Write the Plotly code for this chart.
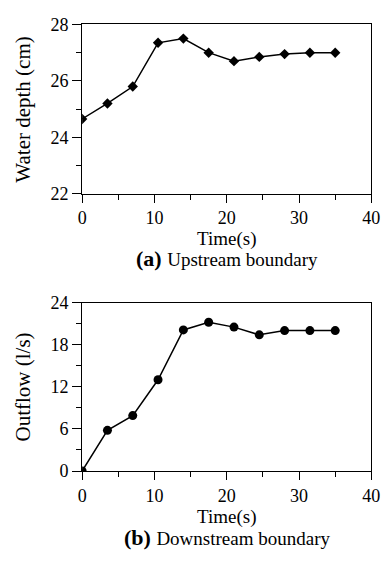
import plotly.graph_objects as go

time_s = [0, 3.5, 7, 10.5, 14, 17.5, 21, 24.5, 28, 31.5, 35]
water_depth = [24.65, 25.2, 25.8, 27.35, 27.5, 27.0, 26.7, 26.85, 26.95, 27.0, 27.0]
outflow = [0, 5.8, 7.9, 13.0, 20.1, 21.2, 20.5, 19.4, 20.0, 20.0, 20.0]

x_ticks = [0, 10, 20, 30, 40]
depth_ticks = [22, 24, 26, 28]
outflow_ticks = [0, 6, 12, 18, 24]

FONT = "Liberation Serif, Times New Roman, serif"
W, H = 390, 564

fig = go.Figure()
fig.add_trace(go.Scatter(x=time_s, y=water_depth, mode="lines+markers",
                         line=dict(color="black", width=1.5),
                         marker=dict(symbol="diamond", size=8, color="black"),
                         xaxis="x", yaxis="y", showlegend=False))
fig.add_trace(go.Scatter(x=time_s, y=outflow, mode="lines+markers",
                         line=dict(color="black", width=1.5),
                         marker=dict(symbol="circle", size=9, color="black"),
                         xaxis="x2", yaxis="y2", showlegend=False))

xd = [80 / W, 380 / W]
y1d = [(H - 190.5) / H, (H - 15) / H]
y2d = [(H - 478) / H, (H - 303.3) / H]

def xaxis(anchor):
    return dict(domain=xd, anchor=anchor, range=[0, 40], tickvals=x_ticks,
                showgrid=False, zeroline=False, showline=True, linecolor="black",
                linewidth=1.3, mirror=True, ticks="outside", ticklen=8, tickwidth=1.3,
                tickcolor="black", tickfont=dict(family=FONT, size=18, color="black"),
                minor=dict(dtick=5, ticks="outside", ticklen=5, tickwidth=1.3, tickcolor="black"))

def yaxis(anchor, dom, rng, tv, minor_d):
    return dict(domain=dom, anchor=anchor, range=rng, tickvals=tv,
                showgrid=False, zeroline=False, showline=True, linecolor="black",
                linewidth=1.3, mirror=True, ticks="outside", ticklen=9, tickwidth=1.3,
                tickcolor="black", tickfont=dict(family=FONT, size=18, color="black"),
                minor=dict(dtick=minor_d, tick0=rng[0], ticks="outside", ticklen=5,
                           tickwidth=1.3, tickcolor="black"))

fig.update_layout(
    width=W, height=H,
    margin=dict(l=0, r=0, t=0, b=0),
    paper_bgcolor="white", plot_bgcolor="white",
    xaxis=xaxis("y"),
    yaxis=yaxis("x", y1d, [22, 28], depth_ticks, 1),
    xaxis2=xaxis("y2"),
    yaxis2=yaxis("x2", y2d, [0, 24], outflow_ticks, 3),
)

def ann(text, x, y, size=16, angle=0):
    fig.add_annotation(text=text, x=x / W, y=1 - y / H, xref="paper", yref="paper",
                       showarrow=False, textangle=angle, xanchor="center", yanchor="middle",
                       font=dict(family=FONT, size=size, color="black"))

ann("Water depth (cm)", 19, 103, 21, -90)
ann("Outflow (l/s)", 19, 391, 21, -90)
ann("Time(s)", 230, 237, 19)
ann("Time(s)", 230, 526, 19)
ann("<b>(a)</b> <span style='font-size:19px'>Upstream boundary</span>", 230, 258, 22)
ann("<b>(b)</b> <span style='font-size:19px'>Downstream boundary</span>", 230, 547, 22)

fig.write_html("out.html")
